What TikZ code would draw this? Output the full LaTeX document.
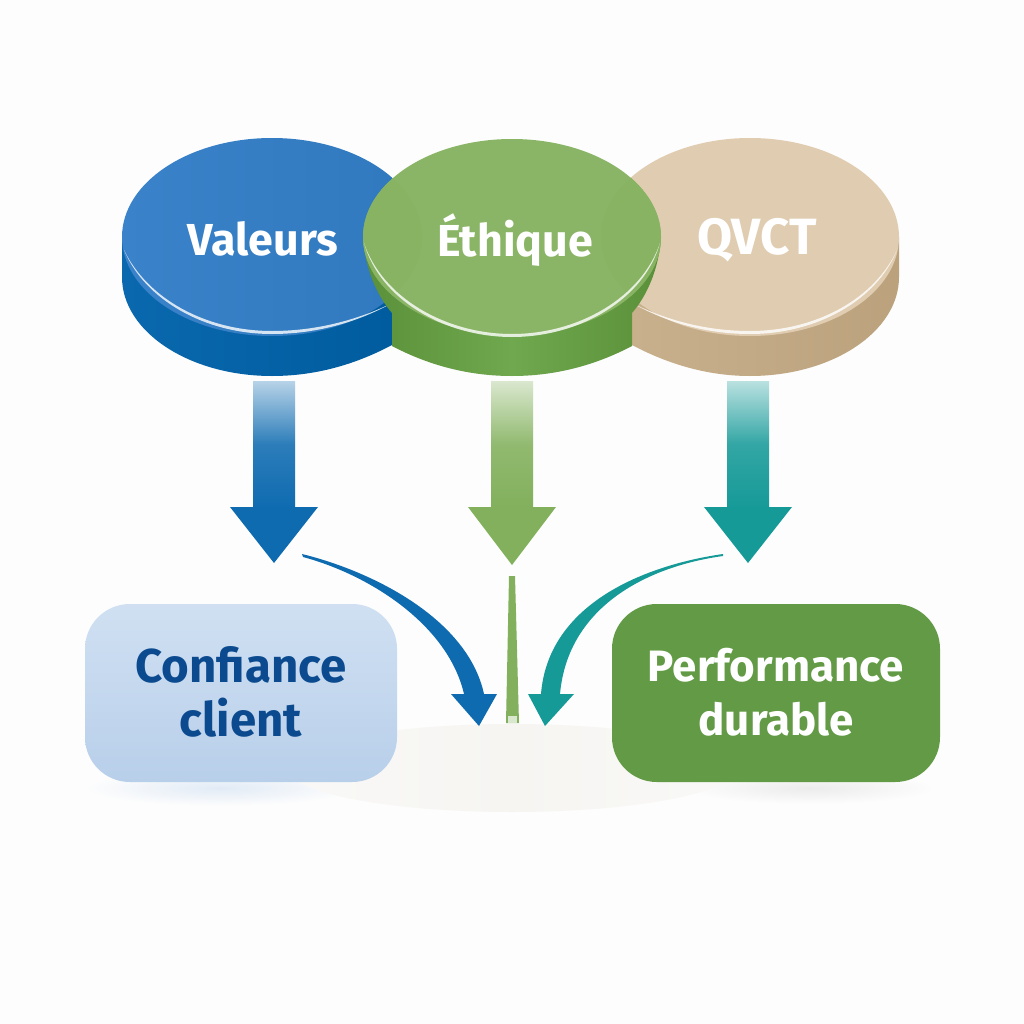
\documentclass[tikz,border=0pt]{standalone}
\usepackage{fontspec}
\setmainfont{Fira Sans}
\usetikzlibrary{calc}
\definecolor{pagebg}{HTML}{FDFDFD}
\definecolor{bluetop}{HTML}{3A82C9}
\definecolor{bluetopb}{HTML}{3079BE}
\definecolor{blueside}{HTML}{0A68AE}
\definecolor{bluesideb}{HTML}{005C9E}
\definecolor{greentop}{HTML}{8BB566}
\definecolor{greenlens}{HTML}{87B362}
\definecolor{greenside}{HTML}{6FA84E}
\definecolor{greensideb}{HTML}{5A9039}
\definecolor{tantop}{HTML}{E0CCB0}
\definecolor{tanside}{HTML}{C9B08D}
\definecolor{tansideb}{HTML}{BBA27D}
\definecolor{arrowblue}{HTML}{0F6BB0}
\definecolor{arrowgreen}{HTML}{82B05C}
\definecolor{arrowteal}{HTML}{169A98}
\definecolor{boxlighta}{HTML}{D0E0F2}
\definecolor{boxlightb}{HTML}{B8CFEA}
\definecolor{boxgreen}{HTML}{639A45}
\definecolor{navy}{HTML}{0B4A8F}
\definecolor{basefill}{HTML}{F6F5F2}
\tikzset{
  disctext/.style={font=\fontsize{25.5}{30}\selectfont\bfseries,text=white,inner sep=0pt},
  boxtext/.style={font=\fontsize{25}{31}\selectfont\bfseries,align=center,inner sep=0pt},
  shine/.style={fill=white,fill opacity=.8,draw=none},
  lightbox/.style={rounded corners=25.5pt,top color=boxlighta,bottom color=boxlightb,draw=none},
  darkbox/.style={rounded corners=25.5pt,fill=boxgreen,draw=none},
}
\newcommand{\blockarrow}[3]{% centre x, tip y, colour
  \shade[top color=#3!30!white,bottom color=#3,middle color=#3!88!white] (#1-21,381) rectangle (#1+21,508);
  \fill[#3] (#1-44,507) -- (#1+44,507) -- (#1,#2) -- cycle;
}
\begin{document}
\begin{tikzpicture}[x=0.02cm,y=-0.02cm]
\useasboundingbox (0,0) rectangle (1024,1024);
\fill[pagebg] (0,0) rectangle (1024,1024);
% soft ground
\shade[inner color=boxlightb!40!pagebg,outer color=pagebg] (220,788) ellipse [x radius=135,y radius=18];
\shade[inner color=black!7!pagebg,outer color=pagebg] (810,788) ellipse [x radius=125,y radius=16];
\shade[left color=basefill!55!pagebg,right color=basefill!55!pagebg,middle color=basefill] (512,768) ellipse [x radius=225,y radius=44];
% blue disc
\shade[left color=blueside,right color=bluesideb] (122,237) -- (122,277) arc[start angle=180,end angle=90,x radius=150,y radius=99] .. controls (320,376) and (360,362) .. (392,345) -- (392,237) -- cycle;
\shade[left color=bluetop,right color=bluetopb] (272,237) ellipse [x radius=150,y radius=99];
\fill[shine] (124,250) .. controls (145,300) and (205,334) .. (272,334) .. controls (320,334) and (362,320) .. (392,303) .. controls (362,318) and (320,331) .. (272,331) .. controls (205,331) and (147,298) .. (124,250) -- cycle;
\node[disctext] (valeurs) at (263,239) {Valeurs};
% tan disc
\shade[left color=tanside,right color=tansideb] (632,237) -- (632,345) .. controls (664,362) and (704,376) .. (750,376) arc[start angle=90,end angle=0,x radius=149,y radius=99] -- (899,237) -- cycle;
\fill[tantop] (750,237) ellipse [x radius=149,y radius=99];
\fill[shine] (632,303) .. controls (662,320) and (702,334) .. (750,334) .. controls (817,334) and (877,300) .. (897,250) .. controls (875,298) and (817,331) .. (750,331) .. controls (702,331) and (662,318) .. (632,303) -- cycle;
\node[disctext,font=\fontsize{29}{34}\selectfont\bfseries] (qvct) at (757,240) {QVCT};
% green disc
\shade[left color=greensideb,right color=greensideb,middle color=greenside] (363,237) .. controls (365,270) and (378,297) .. (392,313) -- (392,346) .. controls (430,366) and (470,376) .. (512,376) .. controls (554,376) and (594,366) .. (632,346) -- (632,313) .. controls (646,297) and (659,270) .. (661,237) -- cycle;
\fill[greentop] (512,237) ellipse [x radius=149,y radius=98];
\begin{scope}
  \clip (512,237) ellipse [x radius=149,y radius=98];
  \fill[greenlens] (272,237) ellipse [x radius=150,y radius=99];
  \fill[greenlens] (750,237) ellipse [x radius=149,y radius=99];
\end{scope}
\fill[shine] (364,243) .. controls (380,300) and (445,337) .. (512,337) .. controls (579,337) and (644,300) .. (660,243) .. controls (642,297) and (579,334) .. (512,334) .. controls (445,334) and (382,297) .. (364,243) -- cycle;
\node[disctext] (ethique) at (515,240) {Éthique};
% block arrows
\blockarrow{274}{563}{arrowblue}
\blockarrow{512}{565}{arrowgreen}
\blockarrow{748}{563}{arrowteal}
% boxes
\path[lightbox] (85,604) rectangle (397,782);
\node[boxtext,text=navy,font=\fontsize{27}{31}\selectfont\bfseries] (confiance) at (241,692) {Confiance\\client};
\path[darkbox] (612,604) rectangle (940,782);
\node[boxtext,text=white] (performance) at (776,692) {Performance\\durable};
% curved arrows
\coordinate (bluetail) at (302,554);
\coordinate (bluetip) at (479,726);
\coordinate (tealtail) at (723,554);
\coordinate (tealtip) at (545,726);
\fill[arrowblue] (bluetail) .. controls (375,572) and (468,620) .. (484,694) -- (497,694) -- (bluetip) -- (451,694) -- (464,694) .. controls (448,625) and (370,575) .. (303,557) -- cycle;
\fill[arrowteal] (tealtail) .. controls (640,566) and (548,606) .. (541,694) -- (528,694) -- (tealtip) -- (574,694) -- (560,694) .. controls (568,605) and (650,566) .. (723,556) -- cycle;
\fill[arrowgreen] (509,576) -- (515,576) -- (519,723) -- (506,723) -- cycle;
\fill[white,fill opacity=.7] (508,716) -- (517,716) -- (517,723) -- (508,723) -- cycle;
\end{tikzpicture}
\end{document}
